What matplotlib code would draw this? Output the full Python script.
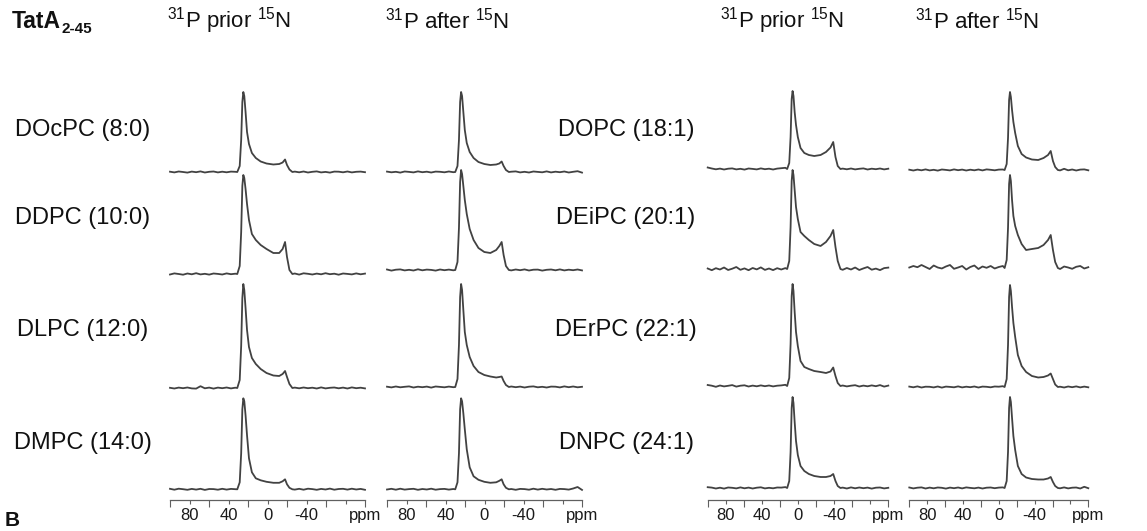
import numpy as np
import matplotlib
matplotlib.use('Agg')
import matplotlib.pyplot as plt

plt.rcParams['font.family'] = ['Liberation Sans', 'DejaVu Sans']
plt.rcParams['mathtext.fontset'] = 'custom'
plt.rcParams['mathtext.rm'] = 'Liberation Sans'
plt.rcParams['mathtext.it'] = 'Liberation Sans:italic'
plt.rcParams['mathtext.bf'] = 'Liberation Sans:bold'

# ---------------- data ----------------
headers = [r'$^{31}$P prior $^{15}$N', r'$^{31}$P after $^{15}$N',
           r'$^{31}$P prior $^{15}$N', r'$^{31}$P after $^{15}$N']
lipids_left = ['DOcPC (8:0)', 'DDPC (10:0)', 'DLPC (12:0)', 'DMPC (14:0)']
lipids_right = ['DOPC (18:1)', 'DEiPC (20:1)', 'DErPC (22:1)', 'DNPC (24:1)']

tick_ppm = [100, 80, 60, 40, 20, 0, -20, -40, -60, -80, -100]
tick_labels = ['', '80', '', '40', '', '0', '', '-40', '', '', 'ppm']
tall_ticks = [100, 60, 20, -20, -60, -100]

# chemical shifts (ppm) of the line-shape points, per column
ppm_c1 = [31, 28.5, 27, 25.8, 24.8, 23.8, 22.5, 21, 19, 16, 12, 7, 1, -6, -12, -15.5, -18, -20, -22.5, -25.5]
ppm_c2 = [30, 27.7, 26.2, 25, 24, 23, 21.7, 20.2, 18.2, 15.2, 11.2, 6.2, 0.2, -6, -12, -15.2, -17.6, -19.6, -22, -25]
ppm_c3 = [12, 9.7, 8.2, 7, 6, 5, 3.7, 2.2, 0.2, -2.8, -7, -12, -18, -25, -31, -36, -39, -41.5, -44, -47]
ppm_c4 = [-6.5, -8.8, -10.3, -11.5, -12.5, -13.5, -14.8, -16.3, -18.3, -21.3, -25.5, -30.5, -37, -44, -50, -55, -58, -60.5, -63, -66]

# intensities (a.u.) at those points; rows = lipids top to bottom
int_c1 = [
    [0, 6, 32, 70, 80, 76, 60, 40, 28, 19, 14, 10.5, 8.5, 7.5, 8, 9.5, 12.5, 7, 2.5, 0],
    [0, 8, 42, 88, 99, 96, 85, 70, 54, 40, 34, 29, 25, 21, 21, 25, 32, 17, 4, 0],
    [0, 8, 42, 90, 104, 98, 80, 58, 41, 30, 24, 19, 15, 12.5, 12, 14, 17, 11, 4, 0],
    [0, 7, 36, 80, 91, 88, 74, 54, 31, 17, 11, 9, 7.5, 6.5, 6.5, 8, 10, 5, 1.5, 0],
]
int_c2 = [
    [0, 6, 32, 70, 80, 76, 60, 42, 29, 20, 14, 10, 8, 7, 7.5, 8.5, 10.5, 6, 2, 0],
    [0, 8, 42, 88, 100, 96, 84, 70, 56, 41, 30, 22, 18, 17, 20, 24, 28, 15, 4, 0],
    [0, 8, 42, 90, 103, 97, 77, 55, 42, 30, 21, 15, 12, 10.5, 9.5, 10, 10.5, 6, 2, 0],
    [0, 7, 36, 80, 91, 88, 76, 60, 40, 22, 13, 9.5, 7.5, 6.5, 7, 8.5, 10, 5, 1.5, 0],
]
int_c3 = [
    [0, 6, 32, 70, 78, 73, 57, 44, 32, 21, 16, 14, 13, 14, 17, 21.5, 27, 12, 3, 0],
    [0, 8, 42, 88, 99, 94, 79, 62, 50, 37, 33, 29, 25, 23, 27, 33, 39, 22, 8, 0],
    [0, 8, 42, 90, 102, 95, 74, 54, 40, 25, 19, 17, 15, 14, 13, 14.5, 18.5, 10, 3, 0],
    [0, 7, 36, 80, 91, 85, 66, 47, 33, 22, 17, 14, 12, 11, 11, 12, 14, 7, 2, 0],
]
int_c4 = [
    [0, 6, 32, 70, 78, 73, 60, 48, 37, 24, 16, 12.5, 10.5, 10, 12, 15, 19, 9, 3, 0],
    [0, 8, 40, 84, 93, 87, 68, 52, 42, 33, 24, 18, 19, 20, 23, 28, 33, 18, 6, 0],
    [0, 8, 42, 90, 102, 96, 80, 64, 50, 32, 21, 15, 11, 9.5, 10, 11.5, 13.5, 8, 2.5, 0],
    [0, 7, 36, 80, 91, 86, 70, 52, 38, 22, 14, 10.5, 9, 8.5, 8.5, 9.5, 11, 6, 2, 0],
]

# baseline noise (a.u.) left and right of each line shape
noiseL_c1 = [
    [0.3, -0.4, 0.5, 0, -0.6, 0.4, -0.2, 0.6, -0.5, 0.2, 0.5, -0.4, 0.3, -0.3, 0.4, 0.2],
    [-0.5, 0.6, 0, -0.7, 0.5, -0.3, 0.8, -0.4, 0.2, -0.6, 0.5, 0.1, -0.5, 0.6, -0.2, 0.3],
    [0.2, -0.5, 0.4, -0.2, 0.5, -0.4, -0.6, 1.8, -0.3, 0.4, -0.6, 0.4, -0.2, 0.5, -0.4, 0.3],
    [0.5, -0.4, 0.6, 0.1, -0.5, 0.4, -0.3, 0.5, -0.6, 0.3, 0.2, -0.4, 0.5, -0.3, 0.4, 0.1],
]
noiseR_c1 = [
    [0.4, -0.3, 0.5, -0.5, 0.2, 0.6, -0.4, 0.1, -0.6, 0.4, 0.3, -0.3, 0.5, -0.4, 0.2, 0.4, -0.2],
    [0.5, -0.6, 0.7, 0.2, -0.5, 0.4, -0.3, 0.8, -0.2, 0.3, -0.7, 0.5, 0.1, -0.4, 0.6, -0.3, 0.4],
    [0.4, -0.3, 0.5, -0.2, 0.3, -0.5, 0.6, -0.4, 0.2, 0.5, -0.3, 0.4, -0.5, 0.6, -0.2, 0.3, -0.4],
    [-0.3, 0.5, -0.4, 0.6, 0.2, -0.5, 0.4, -0.2, 0.7, -0.4, 0.3, 0.5, -0.3, 0.6, -0.2, 0.4, -0.5],
]
noiseL_c2 = [
    [0.4, -0.3, 0.2, -0.6, 0.5, 0.1, -0.4, 0.6, -0.2, 0.3, -0.5, 0.4, 0.2, -0.3, 0.5, -0.2],
    [0.5, -0.6, 0.3, 0.6, -0.4, 0.2, -0.5, 0.7, -0.3, 0.4, 0.1, -0.6, 0.5, -0.2, 0.4, -0.3],
    [0.3, -0.4, 0.5, -0.3, 0.2, 0.6, -0.5, 0.3, -0.2, 0.4, -0.6, 0.5, 0.1, -0.3, 0.4, -0.2],
    [-0.2, 0.5, -0.4, 0.6, -0.3, 0.2, 0.5, -0.5, 0.3, -0.2, 0.6, -0.4, 0.2, 0.4, -0.3, 0.3],
]
noiseR_c2 = [
    [0.3, 0.6, -0.4, 0.2, -0.5, 0.5, 0.1, -0.3, 0.6, -0.4, 0.3, -0.2, 0.5, -0.5, 0.2, 0.8, -0.6],
    [-0.4, 0.5, -0.2, 0.6, -0.5, 0.3, 0.4, -0.6, 0.2, 0.5, -0.3, 0.6, -0.4, 0.3, -0.2, 0.5, -0.4],
    [0.5, -0.2, 0.4, -0.5, 0.3, 0.6, -0.3, 0.2, -0.5, 0.4, 0.3, -0.4, 0.6, -0.2, 0.5, -0.3, 0.2],
    [0.3, -0.5, 0.4, 0.2, -0.4, 0.6, -0.3, 0.5, -0.2, 0.3, -0.5, 0.4, 0.2, -0.3, 0.8, 2.3, -0.6],
]
noiseL_c3 = [
    [1.5, 0.5, -0.3, 0.4, -0.5, 0.3, 0.6, -0.4, 0.2, -0.6, 0.5, 0.1, -0.4, 0.6, -0.2, 0.3, -0.5, 0.4, 0.8, 1.2],
    [0.5, -1.2, 0.8, -0.5, 1.5, -1.0, 0.3, 2.0, -0.8, 0.6, -1.2, 1.0, -0.4, 1.6, -0.9, 0.5, -1.1, 0.8, -0.5, 0.9],
    [1.0, 0.3, -0.8, 0.5, -0.4, 0.2, 0.9, -0.6, 0.3, 0.7, -0.5, 0.4, -0.3, 0.6, -0.2, 0.5, -0.4, 0.3, 0.6, 1.2],
    [0.8, 0.4, -0.5, 0.3, -0.6, 0.5, 0.2, -0.4, 0.6, -0.3, 0.4, -0.5, 0.3, 0.7, -0.4, 0.2, -0.3, 0.5, 0.4, 0.9],
]
noiseR_c3 = [
    [0.4, -0.3, 0.5, -0.4, 0.2, 0.6, -0.5, 0.3, -0.2, 0.5, -0.4, 0.3],
    [-0.8, 1.0, -0.5, 1.5, -1.0, 0.6, 2.0, -0.7, 0.4, -1.1, 0.9, 1.4],
    [0.5, -0.4, 0.3, 0.8, -0.5, 0.4, -0.3, 0.6, -0.2, 0.9, -0.6, 0.4],
    [0.4, -0.5, 0.6, -0.3, 0.5, -0.2, 0.4, -0.6, 0.3, 0.5, -0.4, 0.2],
]
noiseL_c4 = [
    [0.3, -0.5, 0.4, -0.3, 0.6, -0.4, 0.2, -0.6, 0.5, 0.1, -0.4, 0.6, -0.2, 0.4, -0.5, 0.3, -0.3, 0.5, -0.4, 0.6, 0.2, -0.3, 0.4, 0.5],
    [0.5, 2.0, 0.8, 3.0, 1.0, -1.0, 2.5, 0.5, -0.5, 1.5, 3.0, -0.8, 0.5, 2.0, -1.5, 1.0, 2.5, -1.0, 1.5, 0.2, 2.0, -0.5, 1.0, 2.0],
    [0.4, -0.3, 0.6, -0.5, 0.3, 0.2, -0.4, 0.5, -0.6, 0.4, 0.1, -0.3, 0.6, -0.4, 0.3, -0.2, 0.5, -0.5, 0.4, 0.2, -0.3, 0.5, 0.3, 0.8],
    [0.5, -0.4, 0.3, 0.6, -0.5, 0.4, -0.3, 0.5, 0.2, -0.6, 0.4, -0.2, 0.5, -0.4, 0.6, 0.1, -0.3, 0.4, -0.5, 0.3, 0.5, -0.2, 0.4, 0.6],
]
noiseR_c4 = [
    [-0.4, 1.2, -0.3, 0.5, -0.5, 0.4, 0.6, -0.3],
    [-1.0, 1.5, 0.5, -0.8, 1.2, 2.0, -0.5, 0.8],
    [0.3, -0.5, 0.5, -0.2, 0.6, -0.4, 0.4, -0.3],
    [-0.3, 0.6, -0.4, 0.3, 0.5, -0.5, 1.2, -0.2],
]

# ---------------- layout ----------------
W, H = 1147, 531
col_px = [(170, 365), (387, 582), (707.7, 888.3), (909.3, 1088.3)]
axis_bottom_px, axis_top_px = 500, 60
baseline_px = [[172, 274, 388, 489.3], [172, 270, 387, 489.3],
               [169, 269, 386, 488], [170, 268, 387, 488]]
header_x = [167, 385, 720, 915]
label_y = [130, 218, 330, 443]
line_color = '#424242'
axis_color = '#606060'

fig = plt.figure(figsize=(W / 100, H / 100), dpi=100)

columns = [
    (ppm_c1, int_c1, noiseL_c1, noiseR_c1),
    (ppm_c2, int_c2, noiseL_c2, noiseR_c2),
    (ppm_c3, int_c3, noiseL_c3, noiseR_c3),
    (ppm_c4, int_c4, noiseL_c4, noiseR_c4),
]
ax_h = axis_bottom_px - axis_top_px
for ci, ((x0, x1), (ppm, ints, nL, nR)) in enumerate(zip(col_px, columns)):
    ax = fig.add_axes([x0 / W, 1 - axis_bottom_px / H, (x1 - x0) / W, ax_h / H])
    ax.set_xlim(100, -100)
    ax.set_ylim(0, ax_h)
    ax.patch.set_visible(False)
    for s in ['left', 'right', 'top']:
        ax.spines[s].set_visible(False)
    ax.spines['bottom'].set_color(axis_color)
    ax.spines['bottom'].set_linewidth(0.9)
    ax.set_yticks([])
    ax.set_xticks(tick_ppm)
    ax.set_xticklabels(tick_labels)
    ax.tick_params(axis='x', direction='out', length=2.6, width=0.8, color=axis_color,
                   pad=3.2, labelsize=12, labelcolor='#1a1a1a')
    for t, v in zip(ax.xaxis.get_major_ticks(), tick_ppm):
        if v in tall_ticks:
            t.tick1line.set_markersize(5.0)
    for ri in range(4):
        left = np.linspace(100, ppm[0] + 2, len(nL[ri]))
        right = np.linspace(ppm[-1] - 2.5, -100, len(nR[ri]))
        x = np.concatenate([left, ppm, right])
        y = np.concatenate([nL[ri], ints[ri], nR[ri]])
        off = axis_bottom_px - baseline_px[ci][ri]
        ax.plot(x, y + off, color=line_color, lw=1.3, clip_on=False, solid_joinstyle='round')

# texts
for hx, htxt in zip(header_x, headers):
    fig.text(hx / W, 1 - 28 / H, htxt, fontsize=16, ha='left', va='baseline', color='#111')

fig.text(12 / W, 1 - 28 / H, 'TatA', fontsize=16.5, weight='bold', ha='left', va='baseline', color='#111')
fig.text(62 / W, 1 - 33 / H, '2-45', fontsize=11, weight='bold', ha='left', va='baseline', color='#111')

for ly, ltxt in zip(label_y, lipids_left):
    fig.text(83 / W, 1 - ly / H, ltxt, fontsize=17, ha='center', va='center', color='#111')
for ly, rtxt in zip(label_y, lipids_right):
    fig.text(626 / W, 1 - ly / H, rtxt, fontsize=17, ha='center', va='center', color='#111')

fig.text(5 / W, 1 - 530 / H, 'B', fontsize=15, weight='bold', ha='left', va='bottom', color='#111')

fig.savefig('out.png', dpi=100)
